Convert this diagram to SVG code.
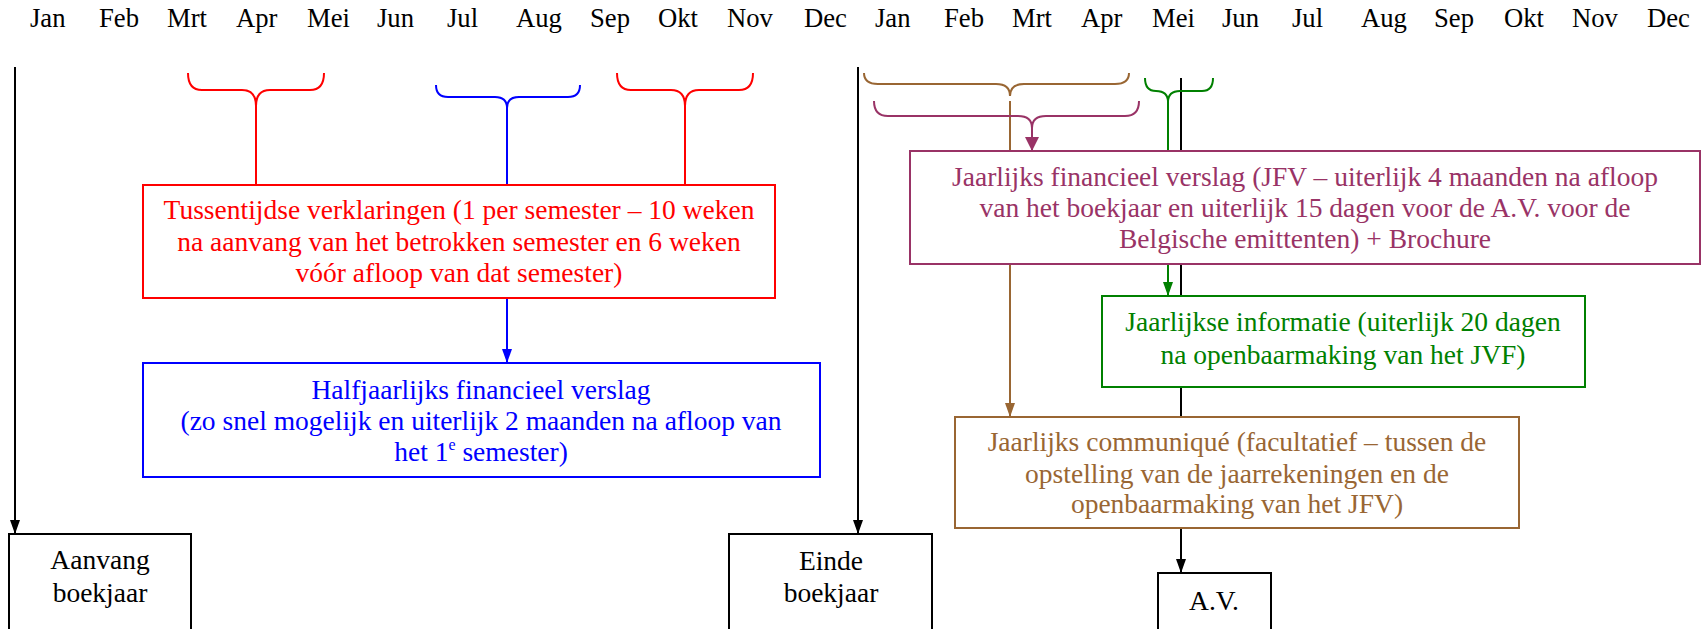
<svg xmlns="http://www.w3.org/2000/svg" width="1705" height="629" viewBox="0 0 1705 629">
<style>
text{font-family:"Liberation Serif","Times New Roman",serif;font-size:27.5px}
.m{fill:#000;font-size:26.67px}
.c{text-anchor:middle}
.ln{fill:none;stroke-width:2}
.bx{fill:#fff;stroke-width:2}
.k{stroke:#000}.r{stroke:#f00}.b{stroke:#00f}.p{stroke:#993366}.n{stroke:#996633}.g{stroke:#008000}
</style>
<defs>
<marker id="ak" viewBox="0 0 10 14" refX="5" refY="14" markerWidth="10" markerHeight="14" markerUnits="userSpaceOnUse" orient="0"><path d="M0,0 L10,0 L5,14 z" fill="#000"/></marker>
<marker id="ab" viewBox="0 0 10 14" refX="5" refY="14" markerWidth="10" markerHeight="14" markerUnits="userSpaceOnUse" orient="0"><path d="M0,0 L10,0 L5,14 z" fill="#00f"/></marker>
<marker id="ag" viewBox="0 0 10 14" refX="5" refY="14" markerWidth="10" markerHeight="14" markerUnits="userSpaceOnUse" orient="0"><path d="M0,0 L10,0 L5,14 z" fill="#008000"/></marker>
<marker id="an" viewBox="0 0 10 14" refX="5" refY="14" markerWidth="10" markerHeight="14" markerUnits="userSpaceOnUse" orient="0"><path d="M0,0 L10,0 L5,14 z" fill="#996633"/></marker>
<marker id="ap" viewBox="0 0 14 14" refX="7" refY="14" markerWidth="14" markerHeight="14" markerUnits="userSpaceOnUse" orient="0"><path d="M0,0 L14,0 L7,14 z" fill="#993366"/></marker>
</defs>
<g id="months">
<text class="m" x="30" y="27">Jan</text><text class="m" x="99" y="27">Feb</text><text class="m" x="167" y="27">Mrt</text><text class="m" x="236" y="27">Apr</text><text class="m" x="307" y="27">Mei</text><text class="m" x="377" y="27">Jun</text><text class="m" x="447" y="27">Jul</text><text class="m" x="516" y="27">Aug</text><text class="m" x="590" y="27">Sep</text><text class="m" x="658" y="27">Okt</text><text class="m" x="727" y="27">Nov</text><text class="m" x="804" y="27">Dec</text>
<text class="m" x="875" y="27">Jan</text><text class="m" x="944" y="27">Feb</text><text class="m" x="1012" y="27">Mrt</text><text class="m" x="1081" y="27">Apr</text><text class="m" x="1152" y="27">Mei</text><text class="m" x="1222" y="27">Jun</text><text class="m" x="1292" y="27">Jul</text><text class="m" x="1361" y="27">Aug</text><text class="m" x="1434" y="27">Sep</text><text class="m" x="1504" y="27">Okt</text><text class="m" x="1572" y="27">Nov</text><text class="m" x="1647" y="27">Dec</text>
</g>
<g id="connectors">
<path class="ln k" d="M15,67 V534" marker-end="url(#ak)"/>
<path class="ln k" d="M858,67 V534" marker-end="url(#ak)"/>
<path class="ln k" d="M1181,78 V573" marker-end="url(#ak)"/>
<path class="ln r" d="M188,73 Q188,90 202,90 L242,90 Q256,90 256,106 Q256,90 270,90 L310,90 Q324,90 324,73 M256,106 V185"/>
<path class="ln r" d="M617,73 Q617,90 631,90 L671,90 Q685,90 685,106 Q685,90 699,90 L739,90 Q753,90 753,73 M685,106 V185"/>
<path class="ln b" d="M436,85 Q436,97 448,97 L495,97 Q507,97 507,108 Q507,97 519,97 L568,97 Q580,97 580,85"/>
<path class="ln b" d="M507,108 V363" marker-end="url(#ab)"/>
<path class="ln n" d="M864,73 Q864,84 878,84 L996,84 Q1010,84 1010,96 Q1010,84 1024,84 L1115,84 Q1129,84 1129,73"/>
<path class="ln n" d="M1010,101 V417" marker-end="url(#an)"/>
<path class="ln p" d="M874,101 Q874,116 888,116 L1018,116 Q1032,116 1032,128 Q1032,116 1046,116 L1125,116 Q1139,116 1139,101"/>
<path class="ln p" d="M1032,128 V151" marker-end="url(#ap)"/>
<path class="ln g" d="M1145,78 Q1145,91 1156,91 Q1168,91 1168,102 Q1168,91 1180,91 L1202,91 Q1213,91 1213,78 M1168,102 V151"/>
<path class="ln g" d="M1168,264 V296" marker-end="url(#ag)"/>
</g>
<g id="tussentijdse">
<rect class="bx r" x="143" y="185" width="632" height="113"/>
<text class="c" fill="#f00" x="459" y="219">Tussentijdse verklaringen (1 per semester – 10 weken</text>
<text class="c" fill="#f00" x="459" y="251">na aanvang van het betrokken semester en 6 weken</text>
<text class="c" fill="#f00" x="459" y="282">vóór afloop van dat semester)</text>
</g>
<g id="halfjaarlijks">
<rect class="bx b" x="143" y="363" width="677" height="114"/>
<text class="c" fill="#00f" x="481" y="399">Halfjaarlijks financieel verslag</text>
<text class="c" fill="#00f" x="481" y="430"> (zo snel mogelijk en uiterlijk 2 maanden na afloop van</text>
<text class="c" fill="#00f" x="481" y="461">het 1<tspan dy="-11" font-size="16">e</tspan><tspan dy="11"> semester)</tspan></text>
</g>
<g id="jfv">
<rect class="bx p" x="910" y="151" width="790" height="113"/>
<text class="c" fill="#993366" x="1305" y="186">Jaarlijks financieel verslag (JFV – uiterlijk 4 maanden na afloop</text>
<text class="c" fill="#993366" x="1305" y="217">van het boekjaar en uiterlijk 15 dagen voor de A.V. voor de</text>
<text class="c" fill="#993366" x="1305" y="248">Belgische emittenten) + Brochure</text>
</g>
<g id="jaarlijkse-informatie">
<rect class="bx g" x="1102" y="296" width="483" height="91"/>
<text class="c" fill="#008000" x="1343" y="331">Jaarlijkse informatie (uiterlijk 20 dagen</text>
<text class="c" fill="#008000" x="1343" y="364">na openbaarmaking van het JVF)</text>
</g>
<g id="communique">
<rect class="bx n" x="955" y="417" width="564" height="111"/>
<text class="c" fill="#996633" x="1237" y="451">Jaarlijks communiqué (facultatief – tussen de</text>
<text class="c" fill="#996633" x="1237" y="483">opstelling van de jaarrekeningen en de</text>
<text class="c" fill="#996633" x="1237" y="513">openbaarmaking van het JFV)</text>
</g>
<g id="aanvang">
<rect class="bx k" x="9" y="534" width="182" height="110"/>
<text class="c" x="100" y="569">Aanvang</text>
<text class="c" x="100" y="602">boekjaar</text>
</g>
<g id="einde">
<rect class="bx k" x="729" y="534" width="203" height="110"/>
<text class="c" x="831" y="570">Einde</text>
<text class="c" x="831" y="602">boekjaar</text>
</g>
<g id="av">
<rect class="bx k" x="1158" y="573" width="113" height="70"/>
<text class="c" x="1214" y="610">A.V.</text>
</g>
</svg>
